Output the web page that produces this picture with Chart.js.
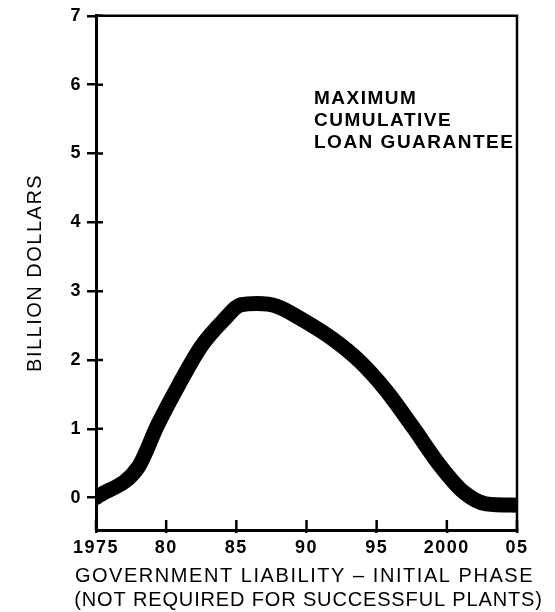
<!DOCTYPE html>
<html>
<head>
<meta charset="utf-8">
<script src="https://cdn.jsdelivr.net/npm/chart.js@4/dist/chart.umd.min.js"></script>
<style>
  html, body { margin: 0; padding: 0; background: #fff; }
  #wrap { width: 555px; height: 612px; position: relative; }
</style>
</head>
<body>
<div id="wrap"><canvas id="loanChart"></canvas></div>
<script>
// values
const years = [1975, 1978, 1979.4, 1980.9, 1982.5, 1984.1, 1985.3, 1986.5, 1987.9, 1989.5,
  1991.9, 1993.8, 1995.7, 1997.6, 1999.5, 2001.2, 2002.8, 2005];
const billions = [0, 0.44, 1.06, 1.64, 2.20, 2.58, 2.80, 2.82, 2.78, 2.61,
  2.30, 1.98, 1.55, 1.02, 0.47, 0.08, -0.09, -0.11];
const xTickValues = [1975, 1980, 1985, 1990, 1995, 2000, 2005];
const xTickLabels = ["1975", "80", "85", "90", "95", "2000", "05"];
const yTickValues = [0, 1, 2, 3, 4, 5, 6, 7];
const xTitle = ["GOVERNMENT LIABILITY \u2013 INITIAL PHASE", "(NOT REQUIRED FOR SUCCESSFUL PLANTS)"];
const yTitle = "BILLION DOLLARS";
const noteLines = ["MAXIMUM", "CUMULATIVE", "LOAN GUARANTEE"];

const FONT = "'Liberation Sans', Arial, Helvetica, sans-serif";

// wider letters, like the old typeset figure
const spacing = {
  id: "spacing",
  beforeLayout(chart) { chart.ctx.letterSpacing = "1.5px"; },
  beforeDraw(chart) { chart.ctx.letterSpacing = "1.5px"; }
};

// frame on top/right, inner tick marks, x title and the note
const extras = {
  id: "extras",
  afterDraw(chart) {
    const { ctx, chartArea: a, scales } = chart;
    ctx.save();
    ctx.strokeStyle = "#000";
    ctx.lineWidth = 2.5;
    ctx.beginPath();
    ctx.moveTo(a.left, a.top);
    ctx.lineTo(a.right, a.top);
    ctx.lineTo(a.right, a.bottom);
    ctx.stroke();

    ctx.beginPath();
    yTickValues.forEach(v => {
      const y = scales.y.getPixelForValue(v);
      ctx.moveTo(a.left, y);
      ctx.lineTo(a.left + 7, y);
    });
    xTickValues.forEach(v => {
      const x = scales.x.getPixelForValue(v);
      ctx.moveTo(x, a.bottom);
      ctx.lineTo(x, a.bottom - 10);
    });
    ctx.stroke();

    ctx.fillStyle = "#000";
    ctx.textBaseline = "middle";
    ctx.textAlign = "center";
    ctx.font = "20px " + FONT;
    const cx = (a.left + a.right) / 2;
    ctx.letterSpacing = "1.55px";
    ctx.fillText(xTitle[0], cx - 2, 576);
    ctx.letterSpacing = "0.85px";
    ctx.fillText(xTitle[1], cx + 2, 600);

    ctx.font = "bold 19px " + FONT;
    ctx.letterSpacing = "1.5px";
    ctx.textBaseline = "alphabetic";
    ctx.textAlign = "left";
    noteLines.forEach((t, i) => ctx.fillText(t, 314, 104 + i * 22));
    ctx.restore();
  }
};

new Chart(document.getElementById("loanChart"), {
  type: "line",
  data: {
    datasets: [{
      data: years.map((yr, i) => ({ x: yr, y: billions[i] })),
      borderColor: "#000",
      borderWidth: 15,
      borderCapStyle: "round",
      borderJoinStyle: "round",
      pointRadius: 0,
      cubicInterpolationMode: "monotone",
      fill: false
    }]
  },
  options: {
    responsive: true,
    maintainAspectRatio: false,
    animation: false,
    layout: { padding: { top: 12, right: 38, left: 0, bottom: 0 } },
    plugins: { legend: { display: false }, tooltip: { enabled: false } },
    scales: {
      x: {
        type: "linear",
        min: 1975,
        max: 2005,
        afterBuildTicks: s => { s.ticks = xTickValues.map(v => ({ value: v })); },
        afterFit: s => { s.height = 82; },
        ticks: {
          autoSkip: false,
          maxRotation: 0,
          padding: 4,
          color: "#000",
          font: { family: FONT, size: 18, weight: "bold" },
          callback: (v, i) => xTickLabels[i]
        },
        grid: { drawOnChartArea: false, tickLength: 3, lineWidth: 2.5, color: "#000" },
        border: { color: "#000", width: 3 }
      },
      y: {
        min: -0.47,
        max: 7,
        afterBuildTicks: s => { s.ticks = yTickValues.map(v => ({ value: v })); },
        afterFit: s => { s.width = 96; },
        ticks: {
          padding: 5,
          color: "#000",
          font: { family: FONT, size: 18, weight: "bold" }
        },
        grid: { drawOnChartArea: false, tickLength: 9, lineWidth: 2.5, color: "#000" },
        border: { color: "#000", width: 3 },
        title: {
          display: true,
          text: yTitle,
          color: "#000",
          font: { family: FONT, size: 20, lineHeight: "24px" },
          padding: { top: 23, bottom: 0 }
        }
      }
    }
  },
  plugins: [spacing, extras]
});
</script>
</body>
</html>
